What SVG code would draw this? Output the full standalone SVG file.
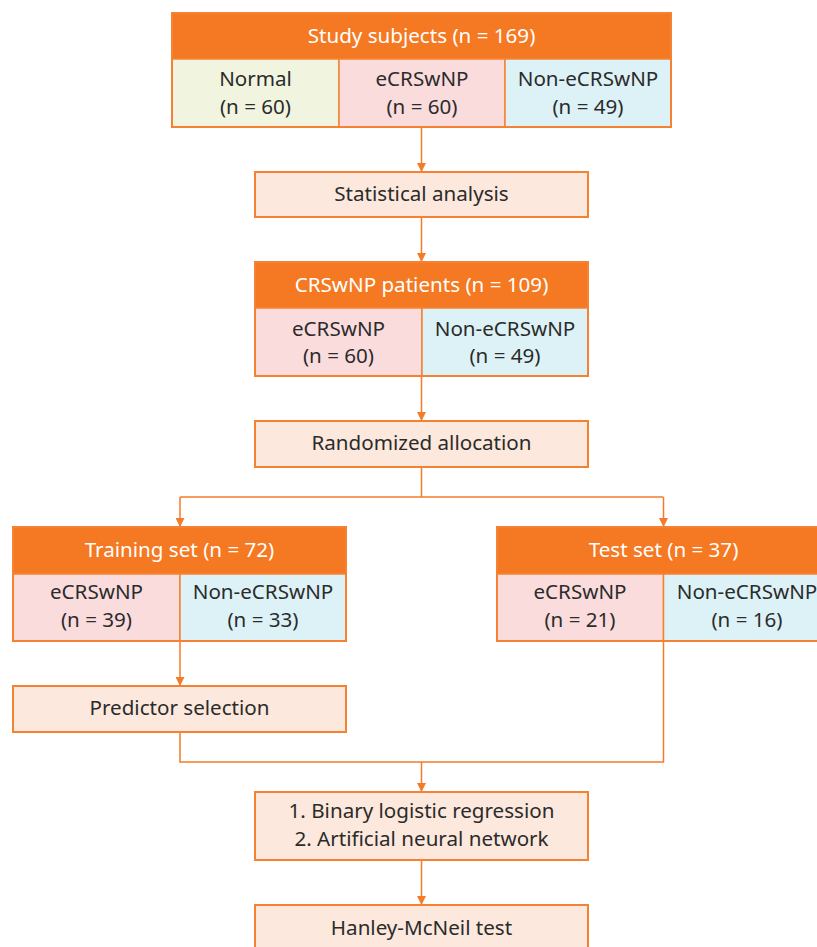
<svg xmlns="http://www.w3.org/2000/svg" width="817" height="947" viewBox="0 0 817 947">
<defs>
<marker id="arr" viewBox="0 0 10 10" refX="10" refY="5" markerWidth="9" markerHeight="9" markerUnits="userSpaceOnUse" orient="auto">
<path d="M0,0 L10,5 L0,10 Z" fill="#F47B28"/>
</marker>
<style>
.hdr{fill:#F47922;stroke:#F58233;stroke-width:1.5}
.lt{fill:#FCE8DC;stroke:#F58233;stroke-width:2}
.gr{fill:#F1F5DF;stroke:#F58233;stroke-width:1.5}
.pk{fill:#FADCDD;stroke:#F58233;stroke-width:1.5}
.cy{fill:#DDF2F7;stroke:#F58233;stroke-width:1.5}
.frame{fill:none;stroke:#F58233;stroke-width:2}
text{font-family:"Noto Sans","Open Sans","DejaVu Sans",sans-serif;font-size:20.6px;text-anchor:middle;fill:#2B2B2B}
text.w{fill:#FFFFFF}
.cn{fill:none;stroke:#F47B28;stroke-width:1.5}
</style>
</defs>
<rect width="817" height="947" fill="#FFFFFF"/>

<g id="connectors">
<path class="cn" d="M421.5,127 V172" marker-end="url(#arr)"/>
<path class="cn" d="M421.5,217 V262" marker-end="url(#arr)"/>
<path class="cn" d="M421.5,376 V421" marker-end="url(#arr)"/>
<path class="cn" d="M421.5,467 V497"/>
<path class="cn" d="M180,497 H663.5"/>
<path class="cn" d="M180,497 V527" marker-end="url(#arr)"/>
<path class="cn" d="M663.5,497 V527" marker-end="url(#arr)"/>
<path class="cn" d="M180,641 V686" marker-end="url(#arr)"/>
<path class="cn" d="M180,732 V762 H663.5 V641"/>
<path class="cn" d="M421.5,762 V792" marker-end="url(#arr)"/>
<path class="cn" d="M421.5,860 V905" marker-end="url(#arr)"/>
</g>

<g id="study-subjects">
<rect class="hdr" x="172" y="13" width="499" height="46"/>
<rect class="gr" x="172" y="59" width="167" height="68"/>
<rect class="pk" x="339" y="59" width="166" height="68"/>
<rect class="cy" x="505" y="59" width="166" height="68"/>
<rect class="frame" x="172" y="13" width="499" height="114"/>
<text class="w" x="421.5" y="43">Study subjects (n = 169)</text>
<text x="255.5" y="86">Normal</text>
<text x="255.5" y="114">(n = 60)</text>
<text x="422" y="86">eCRSwNP</text>
<text x="422" y="114">(n = 60)</text>
<text x="588" y="86">Non-eCRSwNP</text>
<text x="588" y="114">(n = 49)</text>
</g>

<g id="statistical-analysis">
<rect class="lt" x="255" y="172" width="333" height="45"/>
<text x="421.5" y="201">Statistical analysis</text>
</g>

<g id="crswnp-patients">
<rect class="hdr" x="255" y="262" width="333" height="46"/>
<rect class="pk" x="255" y="308" width="167" height="68"/>
<rect class="cy" x="422" y="308" width="166" height="68"/>
<rect class="frame" x="255" y="262" width="333" height="114"/>
<text class="w" x="421.5" y="292">CRSwNP patients (n = 109)</text>
<text x="338.5" y="336">eCRSwNP</text>
<text x="338.5" y="363">(n = 60)</text>
<text x="505" y="336">Non-eCRSwNP</text>
<text x="505" y="363">(n = 49)</text>
</g>

<g id="randomized-allocation">
<rect class="lt" x="255" y="421" width="333" height="46"/>
<text x="421.5" y="450">Randomized allocation</text>
</g>

<g id="training-set">
<rect class="hdr" x="13" y="527" width="333" height="47"/>
<rect class="pk" x="13" y="574" width="167" height="67"/>
<rect class="cy" x="180" y="574" width="166" height="67"/>
<rect class="frame" x="13" y="527" width="333" height="114"/>
<text class="w" x="179.5" y="557">Training set (n = 72)</text>
<text x="96.5" y="599">eCRSwNP</text>
<text x="96.5" y="627">(n = 39)</text>
<text x="263" y="599">Non-eCRSwNP</text>
<text x="263" y="627">(n = 33)</text>
</g>

<g id="test-set">
<rect class="hdr" x="497" y="527" width="333" height="47"/>
<rect class="pk" x="497" y="574" width="166.5" height="67"/>
<rect class="cy" x="663.5" y="574" width="166.5" height="67"/>
<rect class="frame" x="497" y="527" width="333" height="114"/>
<text class="w" x="663.5" y="557">Test set (n = 37)</text>
<text x="580" y="599">eCRSwNP</text>
<text x="580" y="627">(n = 21)</text>
<text x="747" y="599">Non-eCRSwNP</text>
<text x="747" y="627">(n = 16)</text>
</g>

<g id="predictor-selection">
<rect class="lt" x="13" y="686" width="333" height="46"/>
<text x="179.5" y="715">Predictor selection</text>
</g>

<g id="models">
<rect class="lt" x="255" y="792" width="333" height="68"/>
<text x="421.5" y="818">1. Binary logistic regression</text>
<text x="421.5" y="846">2. Artificial neural network</text>
</g>

<g id="hanley-mcneil">
<rect class="lt" x="255" y="905" width="333" height="60"/>
<text x="421.5" y="935">Hanley-McNeil test</text>
</g>
</svg>
